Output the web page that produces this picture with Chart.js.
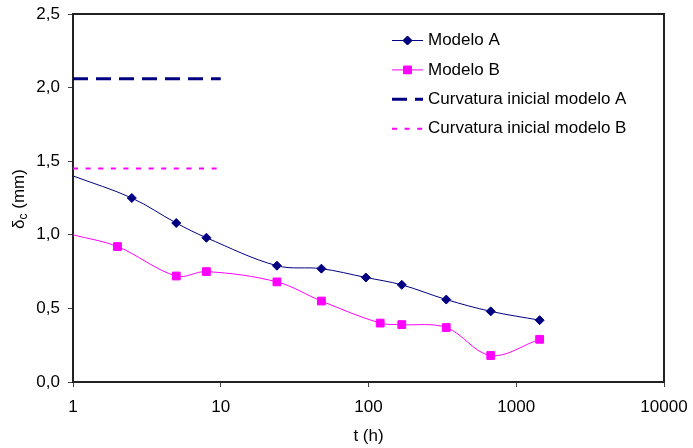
<!DOCTYPE html>
<html>
<head>
<meta charset="utf-8">
<script src="https://cdn.jsdelivr.net/npm/chart.js@4/dist/chart.umd.min.js"></script>
<style>
  html, body { margin: 0; padding: 0; background: #fff; }
  #wrap { width: 693px; height: 448px; }
</style>
</head>
<body>
<div id="wrap"><canvas id="c" width="693" height="448"></canvas></div>
<script>
// Time (h) and mid-span deflection (mm) for both models
const timeA = [1, 2.5, 5, 8, 24, 48, 96, 168, 336, 672, 1440];
const deltaA = [1.40, 1.25, 1.08, 0.98, 0.79, 0.77, 0.71, 0.66, 0.56, 0.48, 0.42];
const timeB = [1, 2, 5, 8, 24, 48, 120, 168, 336, 672, 1440];
const deltaB = [1.00, 0.92, 0.72, 0.75, 0.68, 0.55, 0.40, 0.39, 0.37, 0.18, 0.29];

// Initial camber of each model, drawn over the first decade
const timeInitial = [1, 10];
const initialA = 2.06;
const initialB = 1.45;

const xTicks = [1, 10, 100, 1000, 10000];
const yTicks = [0, 0.5, 1.0, 1.5, 2.0, 2.5];
const seriesLabels = ['Modelo A', 'Modelo B', 'Curvatura inicial modelo A', 'Curvatura inicial modelo B'];

const FONT = "'Liberation Sans', Arial, sans-serif";
const NAVY = '#000080';
const MAGENTA = '#FF00FF';

const toPoints = (xs, ys) => xs.map((x, i) => ({ x, y: ys[i] }));
const hideFirst = r => ctx => (ctx.dataIndex === 0 ? 0 : r);

// Frame around the plot area
const framePlugin = {
  id: 'frame',
  afterDraw(chart) {
    const { ctx, chartArea: a } = chart;
    ctx.save();
    ctx.strokeStyle = '#222';
    ctx.lineWidth = 2;
    ctx.beginPath();
    ctx.moveTo(a.left, a.top);
    ctx.lineTo(a.right, a.top);
    ctx.lineTo(a.right, a.bottom);
    ctx.stroke();
    ctx.restore();
  }
};

// Y axis title with subscript
const yTitlePlugin = {
  id: 'yTitle',
  afterDraw(chart) {
    const { ctx, chartArea: a } = chart;
    const big = '17px ' + FONT, small = '12px ' + FONT;
    ctx.save();
    ctx.font = big;
    const w1 = ctx.measureText('\u03B4').width;
    const w3 = ctx.measureText(' (mm)').width;
    ctx.font = small;
    const w2 = ctx.measureText('c').width;
    const total = w1 + w2 + w3;
    ctx.translate(24, (a.top + a.bottom) / 2 + 1);
    ctx.rotate(-Math.PI / 2);
    ctx.fillStyle = '#000';
    ctx.textBaseline = 'alphabetic';
    let x = -total / 2;
    ctx.font = big;
    ctx.fillText('\u03B4', x, 0);
    x += w1;
    ctx.font = small;
    ctx.fillText('c', x, 3);
    x += w2;
    ctx.font = big;
    ctx.fillText(' (mm)', x, 0);
    ctx.restore();
  }
};

// Legend inside the plot, top right
const legendPlugin = {
  id: 'insideLegend',
  afterDraw(chart) {
    const { ctx } = chart;
    const x0 = 392, x1 = 423, tx = 428, y0 = 40.5, dy = 29.4;
    ctx.save();
    ctx.font = '17px ' + FONT;
    ctx.textBaseline = 'middle';
    ctx.textAlign = 'left';
    chart.data.datasets.forEach((ds, i) => {
      const y = y0 + i * dy;
      ctx.strokeStyle = ds.borderColor;
      ctx.lineWidth = ds.borderWidth;
      ctx.setLineDash(ds.legendDash || []);
      ctx.beginPath();
      ctx.moveTo(x0, y);
      ctx.lineTo(x1, y);
      ctx.stroke();
      ctx.setLineDash([]);
      if (ds.legendMarker) {
        Chart.helpers.drawPoint(ctx, {
          pointStyle: ds.pointStyle, radius: ds.legendMarker, rotation: 0, borderWidth: 1
        }, (x0 + x1) / 2, y);
        ctx.fillStyle = ds.pointBackgroundColor;
        ctx.fill();
      }
      ctx.fillStyle = '#000';
      ctx.fillText(ds.label, tx, y);
    });
    ctx.restore();
  }
};

new Chart(document.getElementById('c'), {
  type: 'line',
  data: {
    datasets: [
      {
        label: seriesLabels[0],
        data: toPoints(timeA, deltaA),
        borderColor: NAVY,
        borderWidth: 1,
        pointStyle: 'rectRot',
        pointRadius: hideFirst(4.5),
        pointBackgroundColor: NAVY,
        pointBorderColor: NAVY,
        pointBorderWidth: 1,
        tension: 0.35,
        legendMarker: 4.5
      },
      {
        label: seriesLabels[1],
        data: toPoints(timeB, deltaB),
        borderColor: MAGENTA,
        borderWidth: 1,
        pointStyle: 'rect',
        pointRadius: hideFirst(5.5),
        pointBackgroundColor: MAGENTA,
        pointBorderColor: MAGENTA,
        pointBorderWidth: 1,
        tension: 0.35,
        legendMarker: 5.5
      },
      {
        label: seriesLabels[2],
        data: toPoints(timeInitial, [initialA, initialA]),
        borderColor: NAVY,
        borderWidth: 3,
        borderDash: [15, 8],
        legendDash: [15, 8],
        pointRadius: 0,
        tension: 0
      },
      {
        label: seriesLabels[3],
        data: toPoints(timeInitial, [initialB, initialB]),
        borderColor: MAGENTA,
        borderWidth: 2,
        borderDash: [5, 7.6],
        legendDash: [5, 7.6],
        pointRadius: 0,
        tension: 0
      }
    ]
  },
  options: {
    responsive: false,
    animation: false,
    events: [],
    layout: { padding: { left: 0, right: 29, top: 14, bottom: 0 } },
    plugins: {
      legend: { display: false },
      tooltip: { enabled: false }
    },
    scales: {
      x: {
        type: 'logarithmic',
        min: xTicks[0],
        max: xTicks[xTicks.length - 1],
        afterBuildTicks: s => { s.ticks = xTicks.map(v => ({ value: v })); },
        afterFit: s => { s.height = 66; s.paddingLeft = 0; s.paddingRight = 0; },
        ticks: {
          autoSkip: false,
          maxRotation: 0,
          padding: 10,
          color: '#000',
          font: { family: FONT, size: 17 },
          callback: v => String(v)
        },
        grid: { display: true, drawOnChartArea: false, drawTicks: true, tickLength: 5, color: '#444', lineWidth: 1 },
        border: { display: true, color: '#222', width: 2 },
        title: {
          display: true,
          text: 't (h)',
          color: '#000',
          font: { family: FONT, size: 17 },
          padding: { top: 0, bottom: 1 }
        }
      },
      y: {
        type: 'linear',
        min: yTicks[0],
        max: yTicks[yTicks.length - 1],
        afterBuildTicks: s => { s.ticks = yTicks.map(v => ({ value: v })); },
        afterFit: s => { s.width = 73; s.paddingTop = 0; s.paddingBottom = 0; },
        ticks: {
          padding: 8,
          color: '#000',
          font: { family: FONT, size: 17 },
          callback: v => Number(v).toFixed(1).replace('.', ',')
        },
        grid: { display: true, drawOnChartArea: false, drawTicks: true, tickLength: 5, color: '#444', lineWidth: 1 },
        border: { display: true, color: '#222', width: 2 }
      }
    }
  },
  plugins: [framePlugin, yTitlePlugin, legendPlugin]
});
</script>
</body>
</html>
